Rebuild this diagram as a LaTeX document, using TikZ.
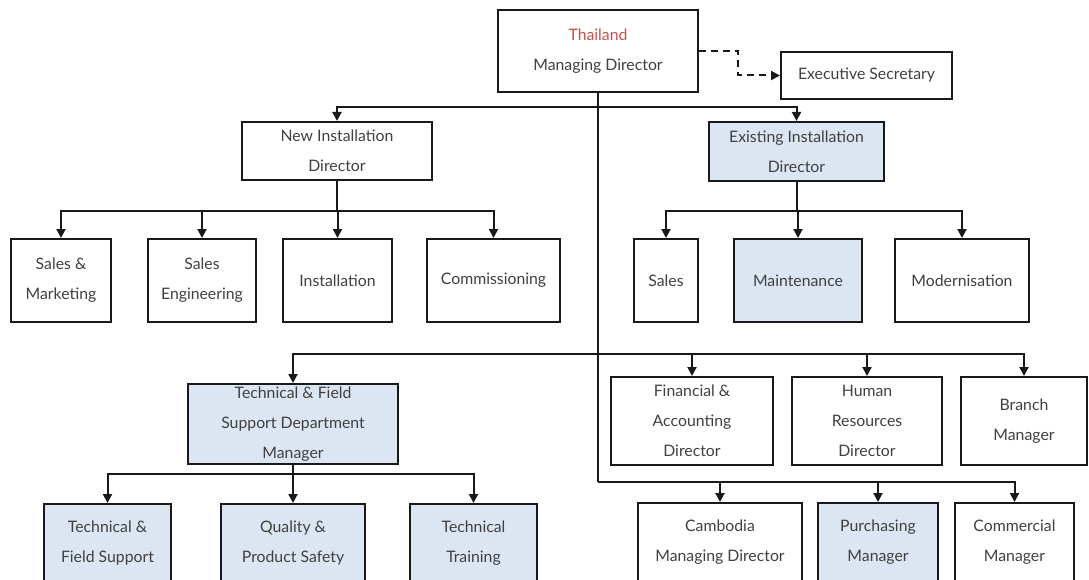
\documentclass[tikz,border=0pt]{standalone}
\usepackage{fontspec}
\setmainfont{Lato}
\usetikzlibrary{arrows.meta}
\definecolor{boxblue}{HTML}{DCE6F2}
\definecolor{txt}{HTML}{404040}
\definecolor{thred}{HTML}{C8504B}
\begin{document}
\begin{tikzpicture}[x=1pt,y=1pt,
  box/.style={draw=black!90, line width=2pt, fill=white, inner sep=0pt,
    align=center, text=txt, font=\fontsize{15.8}{30}\selectfont},
  bluebox/.style={box, fill=boxblue},
  link/.style={line width=2pt, black!90},
  arr/.style={link, -{Triangle[length=9pt,width=9pt]}},
  dlink/.style={arr, dash pattern=on 7pt off 5pt}]
\useasboundingbox (0,0) rectangle (1089,-580);
\fill[white] (0,0) rectangle (1089,-580);
\clip (0,0) rectangle (1089,-580);

% top level
\node[box, minimum width=200, minimum height=82] (md) at (598,-51)
  {\textcolor{thred}{Thailand}\\Managing Director};
\node[box, minimum width=171, minimum height=47] (es) at (866.5,-75.5)
  {Executive Secretary};

% directors
\node[box, minimum width=190, minimum height=58] (nid) at (337,-151)
  {New Installation\\Director};
\node[bluebox, minimum width=175, minimum height=59] (eid) at (796.5,-151.5)
  {Existing Installation\\Director};

% new installation departments
\node[box, minimum width=100, minimum height=83] (sm) at (61,-280.5)
  {Sales \&\\Marketing};
\node[box, minimum width=108, minimum height=83] (se) at (202,-280.5)
  {Sales\\Engineering};
\node[box, minimum width=109, minimum height=83] (ins) at (337.5,-280.5)
  {Installation};
\node[box, minimum width=133, minimum height=83] (cms) at (493.5,-280.5)
  {Commissioning};

% existing installation departments
\node[box, minimum width=64, minimum height=83] (sal) at (666,-280.5)
  {Sales};
\node[bluebox, minimum width=128, minimum height=83] (mai) at (798,-280.5)
  {Maintenance};
\node[box, minimum width=134, minimum height=83] (mod) at (962,-280.5)
  {Modernisation};

% third level
\node[bluebox, minimum width=210, minimum height=80] (tfs) at (293,-424)
  {Technical \& Field\\Support Department\\Manager};
\node[box, minimum width=162, minimum height=88] (fin) at (692,-421)
  {Financial \&\\Accounting\\Director};
\node[box, minimum width=150, minimum height=88] (hr) at (867,-421)
  {Human\\Resources\\Director};
\node[box, minimum width=126, minimum height=88] (br) at (1024,-421)
  {Branch\\Manager};

% technical support sections
\node[bluebox, minimum width=127, minimum height=78] (tf) at (107.5,-543)
  {Technical \&\\Field Support};
\node[bluebox, minimum width=144, minimum height=78] (qps) at (293,-543)
  {Quality \&\\Product Safety};
\node[bluebox, minimum width=127, minimum height=78] (tt) at (473.5,-543)
  {Technical\\Training};

% other managers
\node[box, minimum width=164, minimum height=78] (cam) at (720,-542)
  {Cambodia\\Managing Director};
\node[bluebox, minimum width=120, minimum height=78] (pur) at (878,-542)
  {Purchasing\\Manager};
\node[box, minimum width=119, minimum height=78] (cmr) at (1014.5,-542)
  {Commercial\\Manager};

% bus junctions
\coordinate (b1) at (598,-107);
\coordinate (b3) at (598,-354);
\coordinate (b5) at (598,-482);
\coordinate (b2l) at (337,-211);
\coordinate (b2r) at (796.5,-211);
\coordinate (b4) at (293,-474);
\coordinate (dk) at (738,-51);

% dashed staff link
\draw[dlink] (md.east |- dk) -- (dk) |- (es.west);

% main trunk
\draw[link] (md.south) -- (b5);
\draw[arr] (b1) -| (nid.north);
\draw[arr] (b1) -| (eid.north);

% new installation
\draw[link] (nid.south) -- (b2l);
\foreach \n in {sm,se,ins,cms} \draw[arr] (b2l) -| (\n.north);

% existing installation
\draw[link] (eid.south) -- (b2r);
\foreach \n in {sal,mai,mod} \draw[arr] (b2r) -| (\n.north);

% third level
\foreach \n in {tfs,fin,hr,br} \draw[arr] (b3) -| (\n.north);

% technical support sections
\draw[link] (tfs.south) -- (b4);
\foreach \n in {tf,qps,tt} \draw[arr] (b4) -| (\n.north);

% other managers
\foreach \n in {cam,pur,cmr} \draw[arr] (b5) -| (\n.north);
\end{tikzpicture}
\end{document}
